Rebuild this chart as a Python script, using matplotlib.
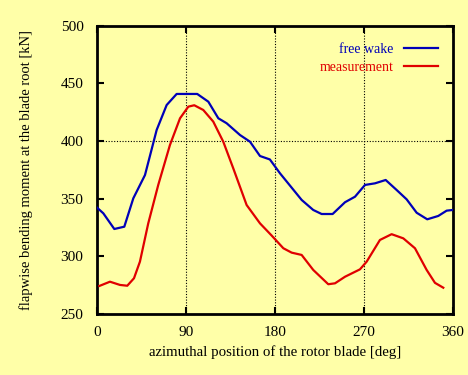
import matplotlib
matplotlib.use('Agg')
import matplotlib.pyplot as plt
import numpy as np

plt.rcParams['font.family'] = ['Liberation Serif', 'DejaVu Serif']

# free wake simulation
fw_deg = [0, 6.7, 17.8, 27.9, 37, 48.8, 60.6, 70.7, 80.8, 101.6, 112.8, 122.9,
          131.3, 144.8, 154.9, 165, 175, 185.2, 207.1, 218.8, 227.3, 238.4,
          250.9, 261, 271.1, 281.2, 292, 303.1, 313.2, 323.3, 334, 345.1,
          353.6, 359.7]
fw_val = [342.5, 337.3, 323.7, 325.7, 350.3, 370.5, 409.6, 431.2, 440.8, 440.8,
          434.1, 419.7, 415.4, 405.2, 399.4, 387, 384, 372, 348.9, 340.2,
          336.7, 336.7, 346.9, 351.7, 361.9, 363.3, 366.2, 357.5, 349.4,
          337.8, 332.1, 335, 339.6, 340.2]

# measurement
ms_deg = [2.7, 13.4, 23.5, 30.9, 37.7, 43.7, 52.1, 62.2, 74, 84.2, 92.6, 98.6,
          107.7, 117.8, 127.9, 138, 151.5, 165, 176.8, 188.6, 197, 207.1,
          218.8, 234, 240.8, 250.9, 266, 272.8, 286.2, 298, 309.8, 321.6,
          333.4, 341.8, 350.2]
ms_val = [274.3, 278, 275.2, 274.5, 281, 295.4, 328.6, 361.9, 396.5, 419.7,
          429.8, 431, 426.9, 416.8, 399.4, 376.3, 344.5, 328.6, 318, 307,
          303.2, 301.2, 288.2, 275.8, 276.6, 282.3, 288.7, 295.4, 314.2,
          319.2, 315.6, 307, 288.2, 277, 272.8]

xticks = [0, 90, 180, 270, 360]
yticks = [250, 300, 350, 400, 450, 500]

bg = '#ffffa8'
fig = plt.figure(figsize=(4.68, 3.75), dpi=100, facecolor=bg)
ax = fig.add_axes([0.2066, 0.1627, 0.7613, 0.7688], facecolor=bg)

ax.plot(fw_deg, fw_val, color='#0000b8', lw=1.6, label='free wake', zorder=3)
ax.plot(ms_deg, ms_val, color='#e00000', lw=1.6, label='measurement', zorder=3)

# grid only where the original shows it
for x in [90, 180, 270]:
    ax.axvline(x, color='black', lw=0.8, ls=(0, (1, 1.5)), zorder=1)
ax.axhline(400, color='black', lw=0.8, ls=(0, (1, 1.5)), zorder=1)

ax.set_xlim(0, 360)
ax.set_ylim(250, 500)
ax.set_xticks(xticks)
ax.set_yticks(yticks)
ax.tick_params(direction='in', length=5, width=1.5, top=True, right=True,
               labelsize=11, colors='black')
ax.tick_params(axis='y', pad=9.5)
ax.tick_params(axis='x', pad=9)
for s in ax.spines.values():
    s.set_linewidth(2)

ax.set_xlabel('azimuthal position of the rotor blade [deg]', fontsize=10.7, va='center')
ax.xaxis.set_label_coords(0.5, -0.132)
ax.set_ylabel('flapwise bending moment at the blade root [kN]', fontsize=10.5, va='center')
ax.yaxis.set_label_coords(-0.198, 0.5)

leg = ax.legend(loc='upper right', frameon=False, markerfirst=False,
                handlelength=2.4, fontsize=10, labelcolor='linecolor',
                bbox_to_anchor=(0.973, 0.96), borderaxespad=0, labelspacing=0.35)

fig.savefig('out.png', dpi=100, facecolor=bg)
